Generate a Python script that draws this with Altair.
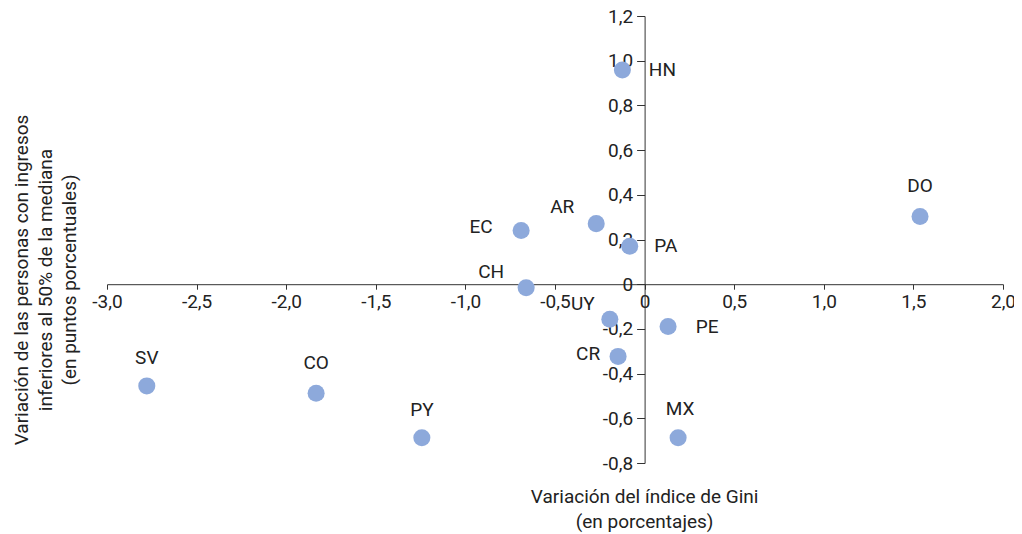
import altair as alt
import pandas as pd

countries = ["HN", "DO", "AR", "EC", "PA", "CH", "UY", "PE", "CR", "SV", "CO", "PY", "MX"]
gini_change = [-0.124, 1.537, -0.27, -0.689, -0.083, -0.661, -0.194, 0.131, -0.148, -2.778, -1.833, -1.243, 0.187]
median_change = [0.958, 0.303, 0.271, 0.240, 0.170, -0.016, -0.157, -0.189, -0.323, -0.455, -0.488, -0.687, -0.687]

x_ticks = [-3.0, -2.5, -2.0, -1.5, -1.0, -0.5, 0.0, 0.5, 1.0, 1.5, 2.0]
y_ticks = [-0.8, -0.6, -0.4, -0.2, 0.0, 0.2, 0.4, 0.6, 0.8, 1.0, 1.2]

x_title = ["Variación del índice de Gini", "(en porcentajes)"]
y_title = ["Variación de las personas con ingresos",
           "inferiores al 50% de la mediana",
           "(en puntos porcentuales)"]

# label offsets in pixels (dx, dy) relative to each point
label_offsets = {
    "HN": (40, 0), "DO": (0, -30), "AR": (-34, -17), "EC": (-40, -4),
    "PA": (36, 0), "CH": (-35, -16), "UY": (-27, -15), "PE": (39, 1),
    "CR": (-30, -2), "SV": (0, -28), "CO": (0, -30), "PY": (0, -28),
    "MX": (2, -29),
}

df = pd.DataFrame({"pais": countries, "gini": gini_change, "mediana": median_change})

FONT = "Roboto, sans-serif"
W, H = 896, 447
PAD_L, PAD_T = 99, 8
label_expr = "datum.value == 0 ? '0' : (datum.value < 0 ? '-' : '') + replace(format(abs(datum.value), '.1f'), '.', ',')"

xs = alt.Scale(domain=[-3.0, 2.0], nice=False, zero=False)
ys = alt.Scale(domain=[-0.8, 1.2], nice=False, zero=False)

x_off = -(W * 3.0 / 5.0)
y_off = -(H * 0.8 / 2.0)

base = alt.Chart(df)

points = base.mark_circle(size=290, opacity=1, color="#8DA9DB").encode(
    x=alt.X("gini:Q", scale=xs,
            axis=alt.Axis(title=None, values=x_ticks, labelExpr=label_expr, offset=y_off,
                          grid=False, tickSize=5, labelPadding=3, domainColor="#333333",
                          tickColor="#333333", labelColor="#222222", labelFont=FONT,
                          labelFontSize=19, labelFlush=False, labelOverlap=False)),
    y=alt.Y("mediana:Q", scale=ys,
            axis=alt.Axis(title=None, values=y_ticks, labelExpr=label_expr, offset=x_off,
                          grid=False, tickSize=8, labelPadding=4, domainColor="#333333",
                          tickColor="#333333", labelColor="#222222", labelFont=FONT,
                          labelFontSize=19, labelFlush=False, labelOverlap=False)),
)

label_layers = []
for c in countries:
    dx, dy = label_offsets[c]
    label_layers.append(
        base.transform_filter(alt.datum.pais == c).mark_text(
            font=FONT, fontSize=19, color="#222222", align="center", baseline="middle",
            dx=dx, dy=dy
        ).encode(x=alt.X("gini:Q", scale=xs), y=alt.Y("mediana:Q", scale=ys), text="pais:N")
    )

xtitle = alt.Chart(pd.DataFrame({"t": [0]})).mark_text(
    font=FONT, fontSize=19, color="#222222", align="center", baseline="middle", lineHeight=25
).encode(x=alt.value(W * 3.0 / 5.0), y=alt.value(497 - 8 - PAD_T), text=alt.value(x_title))

ytitle = alt.Chart(pd.DataFrame({"t": [0]})).mark_text(
    font=FONT, fontSize=19, color="#222222", align="center", baseline="middle", lineHeight=24,
    angle=270
).encode(x=alt.value(22 - 8 - PAD_L), y=alt.value(280 - 8 - PAD_T), text=alt.value(y_title))

chart = alt.layer(points, *label_layers, xtitle, ytitle).properties(
    width=W, height=H,
    background="white",
    autosize=alt.AutoSizeParams(type="none"),
    padding={"left": PAD_L, "top": PAD_T, "right": 1006 - PAD_L - W, "bottom": 526 - PAD_T - H},
).configure_view(strokeWidth=0, stroke=None)

chart.save("out.html", embed_options={"renderer": "svg", "actions": False})
